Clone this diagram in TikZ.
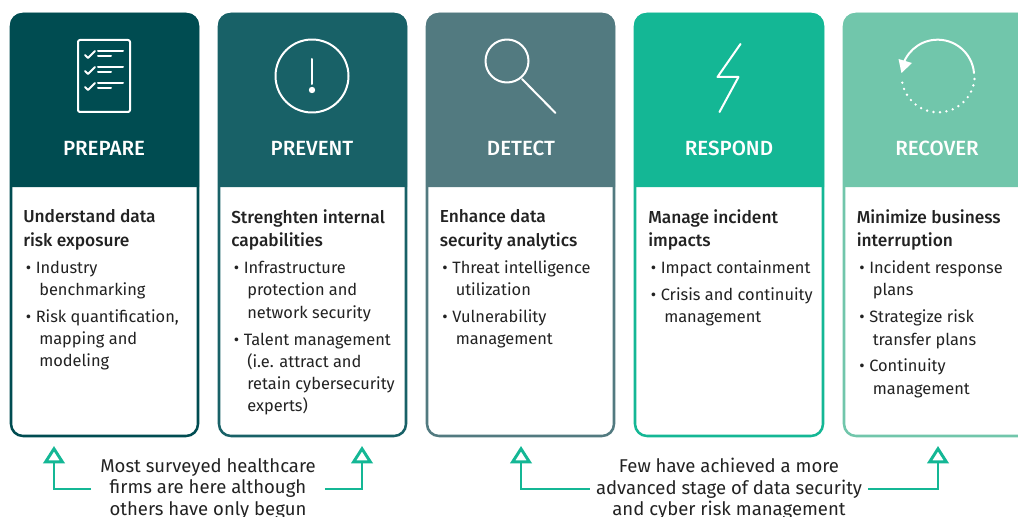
\documentclass[tikz,border=0pt]{standalone}
\usepackage{fontspec}
\setmainfont{Fira Sans}[BoldFont={Fira Sans Medium}]
\usetikzlibrary{arrows.meta}
\definecolor{prepareCol}{HTML}{004C51}
\definecolor{preventCol}{HTML}{186167}
\definecolor{detectCol}{HTML}{527A80}
\definecolor{respondCol}{HTML}{14B795}
\definecolor{recoverCol}{HTML}{71C6AB}
\definecolor{inkCol}{HTML}{222222}
\newcommand{\bul}{\hspace*{2pt}\textbullet\hspace{3.4pt}}
\newcommand{\cont}{\hspace*{12pt}}
\newcommand{\hd}[1]{{\fontsize{13}{16.6}\selectfont\bfseries #1}}
\tikzset{
  card/.style={line width=1.9pt,rounded corners=9pt},
  head/.style={text=white,font=\fontsize{15.4}{17}\selectfont\bfseries},
  body/.style={anchor=north west,align=left,text=inkCol,font=\fontsize{12.3}{16.6}\selectfont},
  note/.style={align=center,text=inkCol,font=\fontsize{13.9}{16.1}\selectfont},
  icon/.style={white,line width=1.5pt,line cap=round,line join=round},
  pointer/.style={respondCol,line width=2.2pt,-{Triangle[open,length=13pt,width=16pt,line width=2.2pt]}}
}
\begin{document}
\begin{tikzpicture}[x=0.75pt,y=-0.75pt]
\tikzstyle{every node}+=[inner sep=0pt]
\useasboundingbox (0,0) rectangle (1018,517);
\clip (0,0) rectangle (1018,517);
% cards
\draw [card,prepareCol,fill=white] (11,14) rectangle (198,436);
\fill [prepareCol] (10,187) [rounded corners=9pt] -- (10,13) -- (199,13) [sharp corners] -- (199,187) -- cycle;
\draw [card,preventCol,fill=white] (219,14) rectangle (406,436);
\fill [preventCol] (218,187) [rounded corners=9pt] -- (218,13) -- (407,13) [sharp corners] -- (407,187) -- cycle;
\draw [card,detectCol,fill=white] (427,14) rectangle (614,436);
\fill [detectCol] (426,187) [rounded corners=9pt] -- (426,13) -- (615,13) [sharp corners] -- (615,187) -- cycle;
\draw [card,respondCol,fill=white] (635,14) rectangle (823,436);
\fill [respondCol] (634,187) [rounded corners=9pt] -- (634,13) -- (824,13) [sharp corners] -- (824,187) -- cycle;
\draw [card,recoverCol,fill=white] (844,14) rectangle (1040,436);
\fill [recoverCol] (843,187) [rounded corners=9pt] -- (843,13) -- (1041,13) [sharp corners] -- (1041,187) -- cycle;
% titles
\node [head] (prepare) at (104,148) {PREPARE};
\node [head] (prevent) at (312,148) {PREVENT};
\node [head] (detect) at (521,148) {DETECT};
\node [head] (respond) at (729,148) {RESPOND};
\node [head] (recover) at (937,148) {RECOVER};
% checklist icon
\draw [icon,rounded corners=1.5pt] (78,40) rectangle (130,112);
\draw [icon] (85,55) -- (88,58) -- (95,51);
\draw [icon] (98,51) -- (123,51);
\draw [icon] (98,56.5) -- (111,56.5);
\draw [icon] (85,71) -- (88,74) -- (95,67);
\draw [icon] (98,67) -- (123,67);
\draw [icon] (98,72.5) -- (111,72.5);
\draw [icon] (85,87) -- (88,90) -- (95,83);
\draw [icon] (98,83) -- (123,83);
\draw [icon] (98,88.5) -- (111,88.5);
% warning icon
\draw [icon] (312,76) circle (36.5);
\draw [icon] (312,59) -- (312,84);
\fill [white] (312,90) circle (3.2);
% lens icon
\draw [icon] (507,61) circle (21.5);
\draw [icon] (522,79) -- (555.5,113);
% bolt icon
\draw [icon] (740.5,44) -- (717.5,77) -- (738.5,77) -- (719.5,112);
% cycle icon
\draw [icon] (974,73) arc [start angle=-5,end angle=-170,radius=36.5];
\draw [icon,line width=2pt,dash pattern=on 0pt off 4.9pt] (974.5,79) arc [start angle=5,end angle=175,radius=36.5];
\fill [white] (901.5,73) -- (898.5,59) -- (912,63) -- cycle;
% texts
\node [body] (prepareText) at (23,209.5) {\hd{Understand data}\\[0.9pt]\hd{risk exposure}\\[3.6pt]
\bul Industry\\\cont benchmarking\\[3.6pt]
\bul Risk quantification,\\\cont mapping and\\\cont modeling};
\node [body] (preventText) at (231,209.5) {\hd{Strenghten internal}\\[0.9pt]\hd{capabilities}\\[3.6pt]
\bul Infrastructure\\\cont protection and\\\cont network security\\[3.6pt]
\bul Talent management\\\cont (i.e. attract and\\\cont retain cybersecurity\\\cont experts)};
\node [body] (detectText) at (439.5,209.5) {\hd{Enhance data}\\[0.9pt]\hd{security analytics}\\[3.6pt]
\bul Threat intelligence\\\cont utilization\\[3.6pt]
\bul Vulnerability\\\cont management};
\node [body] (respondText) at (648,209.5) {\hd{Manage incident}\\[0.9pt]\hd{impacts}\\[3.6pt]
\bul Impact containment\\[3.6pt]
\bul Crisis and continuity\\\cont management};
\node [body] (recoverText) at (856.5,209.5) {\hd{Minimize business}\\[0.9pt]\hd{interruption}\\[3.6pt]
\bul Incident response\\\cont plans\\[3.6pt]
\bul Strategize risk\\\cont transfer plans\\[3.6pt]
\bul Continuity\\\cont management};
% notes and pointers
\node [note,inner xsep=6.75pt] (mostNote) at (208,489) {Most surveyed healthcare\\firms are here although\\others have only begun};
\node [note,inner xsep=4.5pt] (fewNote) at (729,489) {Few have achieved a more\\advanced stage of data security\\and cyber risk management};
\coordinate (prepareTip) at (54,446);
\coordinate (preventTip) at (362,446);
\coordinate (detectTip) at (521,446);
\coordinate (recoverTip) at (938,446);
\draw [pointer] (mostNote.west) -| (prepareTip);
\draw [pointer] (mostNote.east) -| (preventTip);
\draw [pointer] (fewNote.west) -| (detectTip);
\draw [pointer] (fewNote.east) -| (recoverTip);
\end{tikzpicture}
\end{document}
